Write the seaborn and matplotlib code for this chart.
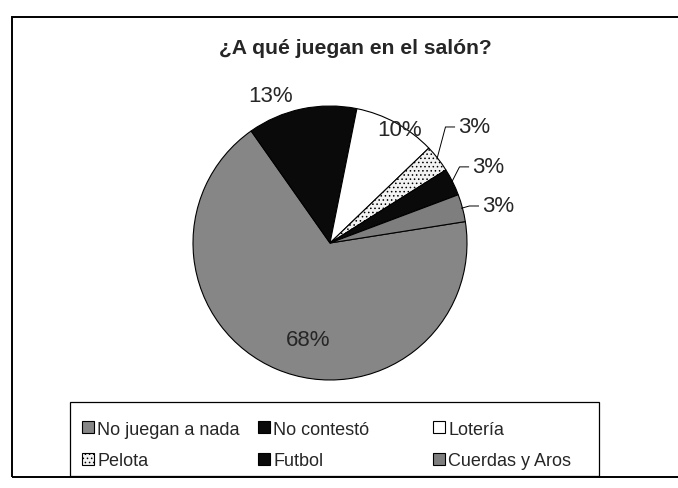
import matplotlib
matplotlib.use('Agg')
import matplotlib.pyplot as plt
import seaborn as sns
from matplotlib.patches import Rectangle
from numpy import deg2rad, cos, sin


# survey answers (31 children), legend order as in the original sheet
categories = ['No juegan a nada', 'No contestó', 'Lotería', 'Pelota', 'Futbol', 'Cuerdas y Aros']
counts = [21, 4, 3, 1, 1, 1]
pct_labels = ['68%', '13%', '10%', '3%', '3%', '3%']
title = '¿A qué juegan en el salón?'

# print look: greys, black, white and a dotted fill
face_colors = ['#868686', '#0a0a0a', '#ffffff', '#f2f2f2', '#0a0a0a', '#7e7e7e']
hatches = [None, None, None, '....', None, None]

# label placement: (radius, angle shift from the slice middle), leader line or not
label_r = [0.72, 1.16, 0.97, 1.26, 1.175, 1.14]
label_shift = [10, 10, -3, 4.2, 1.8, -1.1]
leader = [False, False, False, True, True, True]


sns.set_theme(style='white')
plt.rcParams['font.family'] = ['Liberation Sans', 'DejaVu Sans']
plt.rcParams['hatch.linewidth'] = 0.6

W, H = 678, 489
fig = plt.figure(figsize=(W / 100, H / 100), dpi=100)
fig.patch.set_facecolor('white')

# pie centre at (330, 244) px, radius 137 px
cx, cy, rad = 330, 244, 137
left, right, top, bottom = 130, 560, 70, 400
ax = fig.add_axes([left / W, 1 - bottom / H, (right - left) / W, (bottom - top) / H])

wedges, _ = ax.pie(counts, startangle=9, counterclock=False, colors=face_colors,
                   wedgeprops=dict(edgecolor='black', linewidth=0.8))
for w, h in zip(wedges, hatches):
    if h:
        w.set_hatch(h)

ax.set_xlim((left - cx) / rad, (right - cx) / rad)
ax.set_ylim((cy - bottom) / rad, (cy - top) / rad)
ax.set_aspect('auto')
ax.axis('off')

for w, txt, r, sh, ld in zip(wedges, pct_labels, label_r, label_shift, leader):
    mid = (w.theta1 + w.theta2) / 2
    a = deg2rad(mid + sh)
    tx, ty = r * cos(a), r * sin(a)
    if ld:
        # leader: from the rim up to a short horizontal run into the label
        am = deg2rad(mid)
        ex, ey = 0.99 * cos(am), 0.99 * sin(am)
        kx = max(tx - 0.09, ex + 0.03)
        ax.plot([ex, kx, tx - 0.02], [ey, ty, ty], color='black', lw=0.7,
                solid_capstyle='butt')
        ax.text(tx, ty, txt, ha='left', va='center', fontsize=16)
    else:
        ax.text(tx, ty, txt, ha='center', va='center', fontsize=16)

fig.text(355 / W, 1 - 48 / H, title, ha='center', va='center',
         fontsize=15.2, fontweight='bold')

# legend: three columns at fixed slots, one frame round them
col_x = [82, 258, 433]
col_items = [[0, 3], [1, 4], [2, 5]]
for x, items in zip(col_x, col_items):
    leg = fig.legend([wedges[i] for i in items], [categories[i] for i in items],
                     loc='center left', bbox_to_anchor=(x / W, 1 - 446 / H),
                     bbox_transform=fig.transFigure, frameon=False, fontsize=13,
                     handlelength=0.65, handleheight=0.65, handletextpad=0.2,
                     labelspacing=0.8, borderpad=0, borderaxespad=0)
    for p in leg.get_patches():
        p.set_linewidth(0.8)

fig.patches.append(Rectangle((70 / W, 1 - 477 / H), 529 / W, 74 / H,
                             transform=fig.transFigure, fill=False,
                             edgecolor='black', linewidth=0.9))
fig.patches.append(Rectangle((12 / W, 1 - 478 / H), 700 / W, 460 / H,
                             transform=fig.transFigure, fill=False,
                             edgecolor='black', linewidth=1.4))

fig.savefig('out.png', dpi=100)
